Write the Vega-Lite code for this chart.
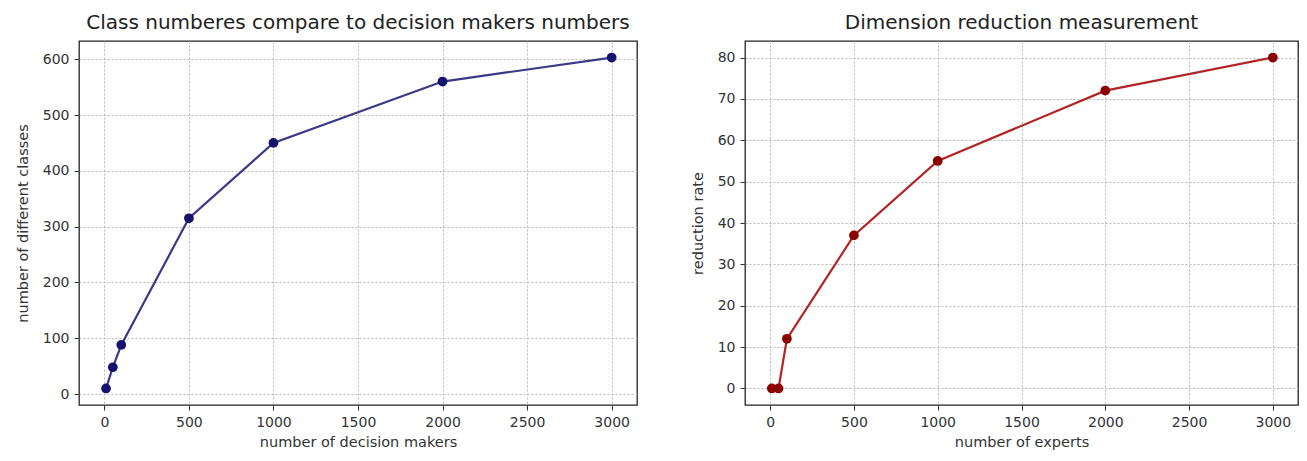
{
  "$schema": "https://vega.github.io/schema/vega-lite/v6.json",
  "background": "white",
  "padding": {"left": 14, "top": 12, "right": 5, "bottom": 5},
  "bounds": "flush",
  "spacing": 108,
  "datasets": {
    "classes": [
      {"n": 10, "classes": 10},
      {"n": 50, "classes": 48},
      {"n": 100, "classes": 88},
      {"n": 500, "classes": 315},
      {"n": 1000, "classes": 450},
      {"n": 2000, "classes": 560},
      {"n": 3000, "classes": 603}
    ],
    "reduction": [
      {"n": 10, "rate": 0},
      {"n": 50, "rate": 0},
      {"n": 100, "rate": 12},
      {"n": 500, "rate": 37},
      {"n": 1000, "rate": 55},
      {"n": 2000, "rate": 72},
      {"n": 3000, "rate": 80}
    ]
  },
  "config": {
    "font": "DejaVu Sans",
    "view": {"stroke": "#222222", "strokeWidth": 1.3},
    "axis": {
      "labelFont": "DejaVu Sans",
      "titleFont": "DejaVu Sans",
      "labelFontSize": 14,
      "titleFontSize": 14.5,
      "titleFontWeight": "normal",
      "labelColor": "#333333",
      "titleColor": "#333333",
      "tickColor": "#333333",
      "tickSize": 5,
      "labelPadding": 5,
      "format": "d",
      "domain": false,
      "gridColor": "#b8b8b8",
      "gridDash": [2, 2],
      "gridWidth": 1,
      "gridOpacity": 1
    },
    "title": {"font": "DejaVu Sans", "fontSize": 20, "fontWeight": "normal", "color": "#222222", "offset": 8}
  },
  "hconcat": [
    {
      "width": 558,
      "height": 364,
      "title": "Class numberes compare to decision makers numbers",
      "data": {"name": "classes"},
      "encoding": {
        "x": {"field": "n", "type": "quantitative", "scale": {"domain": [-150, 3150], "nice": false, "zero": false},
              "axis": {"values": [0, 500, 1000, 1500, 2000, 2500, 3000], "title": "number of decision makers", "titlePadding": 6}},
        "y": {"field": "classes", "type": "quantitative", "scale": {"domain": [-19.65, 632.65], "nice": false, "zero": false},
              "axis": {"values": [0, 100, 200, 300, 400, 500, 600], "title": "number of different classes", "titlePadding": 12}}
      },
      "layer": [
        {"mark": {"type": "line", "color": "#3a3a88", "strokeWidth": 2.2}},
        {"mark": {"type": "point", "filled": true, "color": "#13136e", "size": 95, "opacity": 1}}
      ]
    },
    {
      "width": 553,
      "height": 364,
      "title": "Dimension reduction measurement",
      "data": {"name": "reduction"},
      "encoding": {
        "x": {"field": "n", "type": "quantitative", "scale": {"domain": [-150, 3150], "nice": false, "zero": false},
              "axis": {"values": [0, 500, 1000, 1500, 2000, 2500, 3000], "title": "number of experts", "titlePadding": 6}},
        "y": {"field": "rate", "type": "quantitative", "scale": {"domain": [-4, 84], "nice": false, "zero": false},
              "axis": {"values": [0, 10, 20, 30, 40, 50, 60, 70, 80], "title": "reduction rate", "titlePadding": 12}}
      },
      "layer": [
        {"mark": {"type": "line", "color": "#b22525", "strokeWidth": 2.2}},
        {"mark": {"type": "point", "filled": true, "color": "#8b0000", "size": 95, "opacity": 1}}
      ]
    }
  ]
}
